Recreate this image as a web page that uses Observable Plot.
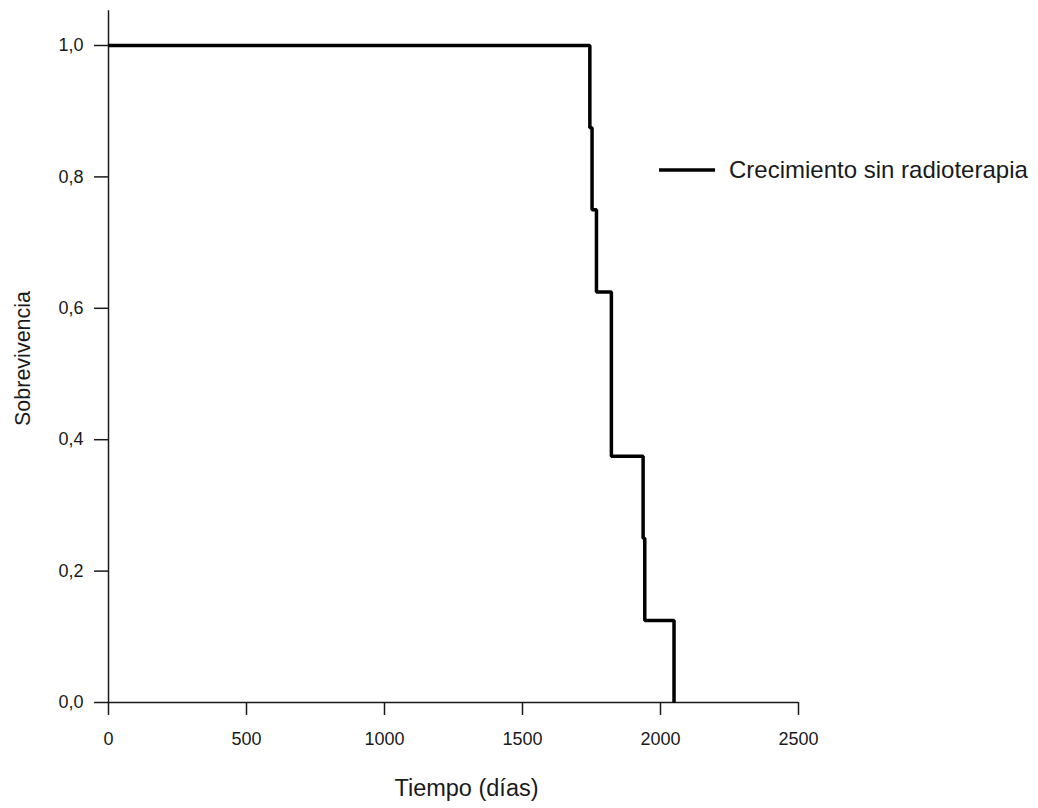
<!DOCTYPE html>
<html>
<head>
<meta charset="utf-8">
<script src="https://cdn.jsdelivr.net/npm/d3@7"></script>
<script src="https://cdn.jsdelivr.net/npm/@observablehq/plot@0.6"></script>
<style>
  body { margin: 0; background: #fff; font-family: "Liberation Sans", Arial, sans-serif; }
  #wrap { position: relative; width: 1038px; height: 808px; }
  #legend { position: absolute; left: 659px; top: 156px; display: flex; align-items: center;
            font-size: 24px; line-height: normal; color: #1a1a1a; white-space: nowrap; }
  #legend svg { display: block; margin-right: 14px; }
</style>
</head>
<body>
<div id="wrap"></div>
<script>
// Kaplan–Meier survival steps
const times    = [0, 1744, 1752, 1768, 1822, 1937, 1943, 2049];
const survival = [1, 0.875, 0.75, 0.625, 0.375, 0.25, 0.125, 0];
const seriesName = "Crecimiento sin radioterapia";
const xTicks = [0, 500, 1000, 1500, 2000, 2500];
const yTicks = [0, 0.2, 0.4, 0.6, 0.8, 1.0];
const xLabel = "Tiempo (días)";
const yLabel = "Sobrevivencia";

const data = times.map((t, i) => ({t, s: survival[i]}));
const axisColor = "#1a1a1a";
const font = "Liberation Sans, Arial, sans-serif";

const chart = Plot.plot({
  width: 1038,
  height: 808,
  marginLeft: 108,
  marginRight: 240,
  marginTop: 45,
  marginBottom: 106,
  style: {fontFamily: font, background: "#fff", color: axisColor},
  x: {domain: [0, 2500]},
  y: {domain: [0, 1]},
  marks: [
    Plot.axisY({ticks: yTicks, tickFormat: d => d.toFixed(1).replace(".", ","),
      tickSize: 14, tickPadding: 11, fontSize: 18, strokeWidth: 1.5, label: null, stroke: axisColor, fill: axisColor}),
    Plot.axisX({ticks: xTicks, tickFormat: d => String(d),
      tickSize: 13, tickPadding: 17, fontSize: 18, strokeWidth: 1.5, label: null, stroke: axisColor, fill: axisColor}),
    Plot.ruleX([0], {y1: 0, y2: 1.053, stroke: axisColor, strokeWidth: 1.5}),
    Plot.ruleY([0], {x1: 0, x2: 2500, stroke: axisColor, strokeWidth: 1.5}),
    Plot.line(data, {x: "t", y: "s", curve: "step-after", stroke: "#000", strokeWidth: 3.5,
      strokeLinejoin: "miter", strokeLinecap: "butt"}),
    Plot.text([xLabel], {frameAnchor: "bottom", dx: 13, dy: 85.6, fontSize: 23.5,
      textAnchor: "middle", lineAnchor: "middle", fill: axisColor}),
    Plot.text([yLabel], {frameAnchor: "left", rotate: -90, dx: -85.5, dy: -15.5, fontSize: 21.5,
      textAnchor: "middle", lineAnchor: "middle", fill: axisColor})
  ]
});
const wrap = document.getElementById("wrap");
wrap.appendChild(chart);

const legend = document.createElement("div");
legend.id = "legend";
legend.innerHTML = `<svg width="56" height="4"><line x1="0" x2="56" y1="2" y2="2" stroke="#000" stroke-width="3.5"/></svg><span>${seriesName}</span>`;
wrap.appendChild(legend);
</script>
</body>
</html>
